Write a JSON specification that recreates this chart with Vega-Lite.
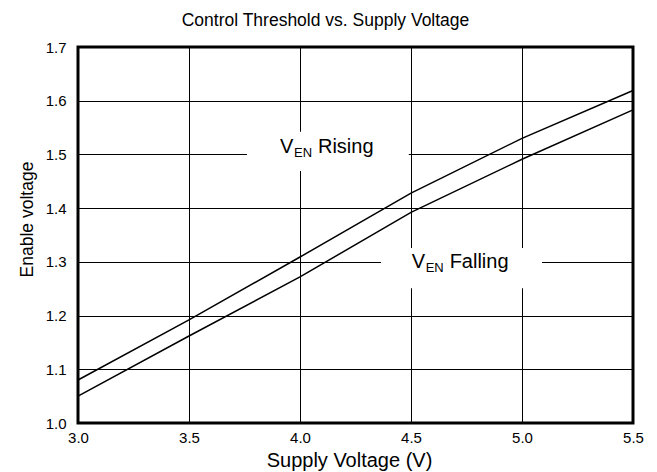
{
  "$schema": "https://vega.github.io/schema/vega-lite/v6.json",
  "width": 555,
  "height": 376,
  "autosize": {"type": "none"},
  "padding": {"left": 78, "top": 47, "right": 24, "bottom": 49},
  "background": "white",
  "config": {
    "font": "Liberation Sans, Arial",
    "view": {"stroke": "black", "strokeWidth": 3}
  },
  "title": {
    "text": "Control Threshold vs. Supply Voltage",
    "fontSize": 17.5,
    "fontWeight": "normal",
    "color": "black",
    "dx": -30,
    "dy": 19,
    "baseline": "alphabetic",
    "offset": 16
  },
  "encoding": {
    "x": {
      "field": "supply",
      "type": "quantitative",
      "scale": {"domain": [3, 5.5], "nice": false, "zero": false},
      "axis": {
        "title": "Supply Voltage (V)",
        "values": [3, 3.5, 4, 4.5, 5, 5.5],
        "format": ".1f",
        "grid": true,
        "gridColor": "black",
        "gridOpacity": 1,
        "gridWidth": 1,
        "ticks": false,
        "tickSize": 0,
        "domain": false,
        "labelFontSize": 15,
        "labelColor": "black",
        "labelPadding": 7,
        "labelDx": 4,
        "labelFlush": false,
        "labelOverlap": false,
        "titleFontSize": 20,
        "titleFontWeight": "normal",
        "titleColor": "black",
        "titleBaseline": "alphabetic",
        "titleX": 271,
        "titleY": 43
      }
    },
    "y": {
      "field": "voltage",
      "type": "quantitative",
      "scale": {"domain": [1, 1.7], "nice": false, "zero": false},
      "axis": {
        "title": "Enable voltage",
        "values": [1, 1.1, 1.2, 1.3, 1.4, 1.5, 1.6, 1.7],
        "format": ".1f",
        "grid": true,
        "gridColor": "black",
        "gridOpacity": 1,
        "gridWidth": 1,
        "ticks": false,
        "tickSize": 0,
        "domain": false,
        "labelFontSize": 15,
        "labelColor": "black",
        "labelPadding": 12,
        "labelFlush": false,
        "labelOverlap": false,
        "titleFontSize": 17.5,
        "titleFontWeight": "normal",
        "titleColor": "black",
        "titleBaseline": "alphabetic",
        "titleAlign": "center",
        "titleX": -46,
        "titleY": 172
      }
    }
  },
  "layer": [
    {
      "data": {"values": [
        {"supply": 3.761, "supply2": 4.49, "voltage": 1.469, "voltage2": 1.542},
        {"supply": 4.365, "supply2": 5.09, "voltage": 1.251, "voltage2": 1.326}
      ]},
      "mark": {"type": "rect", "fill": "white"},
      "encoding": {
        "x2": {"field": "supply2"},
        "y2": {"field": "voltage2"}
      }
    },
    {
      "data": {"values": [
        {"series": "Rising", "supply": 3.0, "voltage": 1.08},
        {"series": "Rising", "supply": 3.5, "voltage": 1.192},
        {"series": "Rising", "supply": 4.0, "voltage": 1.309},
        {"series": "Rising", "supply": 4.5, "voltage": 1.428},
        {"series": "Rising", "supply": 5.0, "voltage": 1.53},
        {"series": "Rising", "supply": 5.5, "voltage": 1.619},
        {"series": "Falling", "supply": 3.0, "voltage": 1.05},
        {"series": "Falling", "supply": 3.5, "voltage": 1.162},
        {"series": "Falling", "supply": 4.0, "voltage": 1.272},
        {"series": "Falling", "supply": 4.5, "voltage": 1.392},
        {"series": "Falling", "supply": 5.0, "voltage": 1.491},
        {"series": "Falling", "supply": 5.5, "voltage": 1.583}
      ]},
      "mark": {"type": "line", "color": "black", "strokeWidth": 1.5},
      "encoding": {
        "detail": {"field": "series"}
      }
    },
    {
      "data": {"values": [
        {"supply": 3.91, "voltage": 1.502, "label": "V"},
        {"supply": 4.081, "voltage": 1.502, "label": "Rising"},
        {"supply": 4.503, "voltage": 1.288, "label": "V"},
        {"supply": 4.674, "voltage": 1.288, "label": "Falling"}
      ]},
      "mark": {"type": "text", "align": "left", "baseline": "alphabetic", "fontSize": 20, "font": "Liberation Sans", "color": "black"},
      "encoding": {
        "text": {"field": "label"}
      }
    },
    {
      "data": {"values": [
        {"supply": 3.973, "voltage": 1.502, "label": "EN"},
        {"supply": 4.566, "voltage": 1.288, "label": "EN"}
      ]},
      "mark": {"type": "text", "align": "left", "baseline": "alphabetic", "dy": 4, "fontSize": 13, "font": "Liberation Sans", "color": "black"},
      "encoding": {
        "text": {"field": "label"}
      }
    }
  ]
}
